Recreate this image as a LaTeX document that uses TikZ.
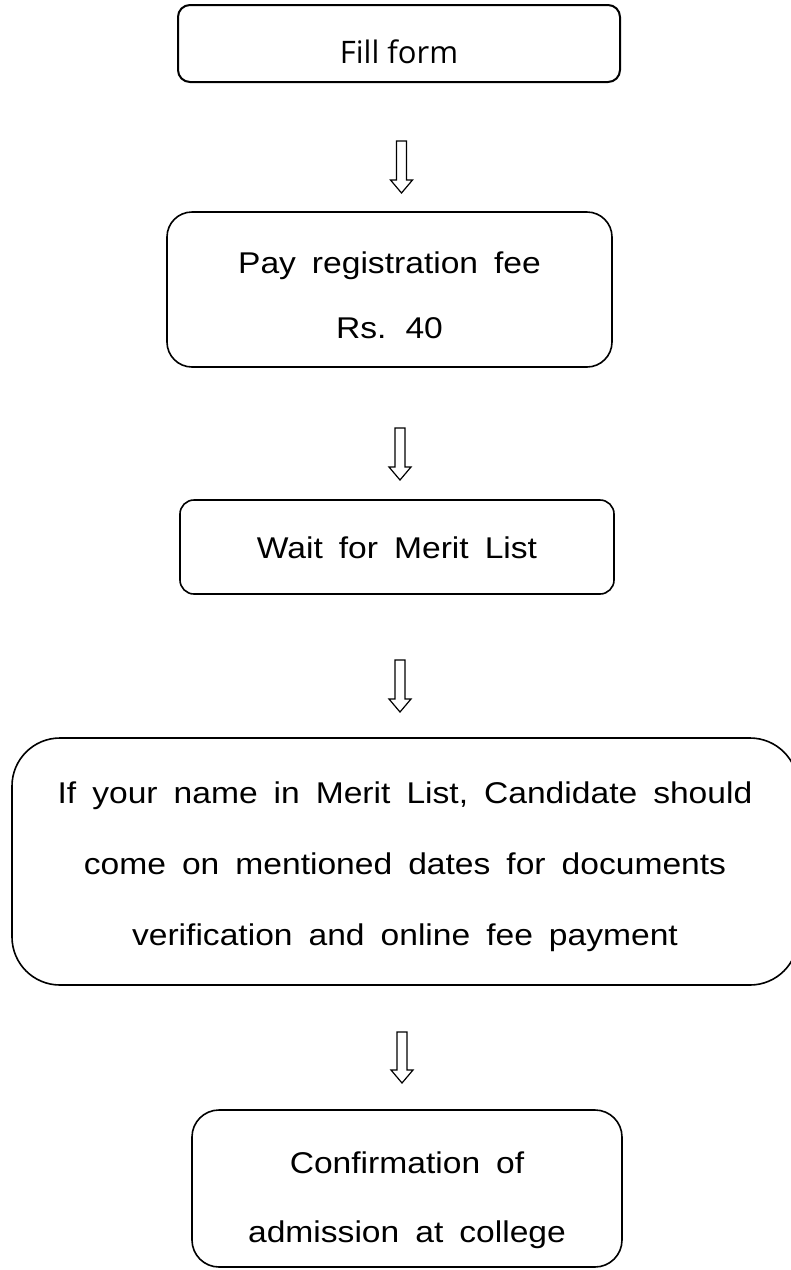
\documentclass[tikz,border=0pt]{standalone}
\usepackage{fontspec}
\setmainfont{Liberation Sans}[FakeStretch=1.12]
\newfontfamily\fillfont{Open Sans}
\usetikzlibrary{calc}
\newcommand\bodyfont[1]{\fontsize{30}{#1}\selectfont\spaceskip=16pt\relax}
\tikzset{
  stepbox/.style={draw=black, line width=1.6pt, inner sep=0pt, align=center, text depth=0pt},
  blockarrow/.style={draw=black, line width=1.2pt, fill=white, line join=miter},
}
\newcommand\hollowarrow[2]{%
  \draw[blockarrow] ($(#1)+(-5,0)$) -- ($(#1)+(5,0)$) -- ($(#2)+(5,-13)$)
    -- ($(#2)+(11,-13)$) -- (#2) -- ($(#2)+(-11,-13)$) -- ($(#2)+(-5,-13)$) -- cycle;}
\begin{document}
\begin{tikzpicture}[x=1pt,y=-1pt]
\useasboundingbox (0,0) rectangle (791,1270);

\node[stepbox, line width=2pt, rounded corners=12pt, minimum width=442pt, minimum height=77pt,
      text height=39pt, font=\fillfont\fontsize{31}{36}\selectfont] (b1) at (399,43.5)
      {Fill form};

\node[stepbox, rounded corners=25pt, minimum width=445pt, minimum height=155pt,
      text height=97pt, font=\bodyfont{65}] (b2) at (389.5,289.5)
      {Pay registration fee\\Rs. 40};

\node[stepbox, rounded corners=14pt, minimum width=434pt, minimum height=94pt,
      text height=22pt, font=\bodyfont{65}] (b3) at (397,547)
      {Wait for Merit List};

\node[stepbox, rounded corners=48pt, minimum width=786pt, minimum height=247pt,
      text height=167pt, font=\bodyfont{71}] (b4) at (405,861.5)
      {If your name in Merit List, Candidate should\\come on mentioned dates for documents\\verification and online fee payment};

\node[stepbox, rounded corners=27pt, minimum width=430pt, minimum height=157pt,
      text height=107pt, font=\bodyfont{69}] (b5) at (407,1188.5)
      {Confirmation of\\admission at college};

\coordinate (a1s) at (401.5,141);  \coordinate (a1e) at (401.5,193);
\coordinate (a2s) at (400,428);    \coordinate (a2e) at (400,480);
\coordinate (a3s) at (400,660);    \coordinate (a3e) at (400,712);
\coordinate (a4s) at (402,1032);   \coordinate (a4e) at (402,1083);
\hollowarrow{a1s}{a1e}
\hollowarrow{a2s}{a2e}
\hollowarrow{a3s}{a3e}
\hollowarrow{a4s}{a4e}
\end{tikzpicture}
\end{document}
